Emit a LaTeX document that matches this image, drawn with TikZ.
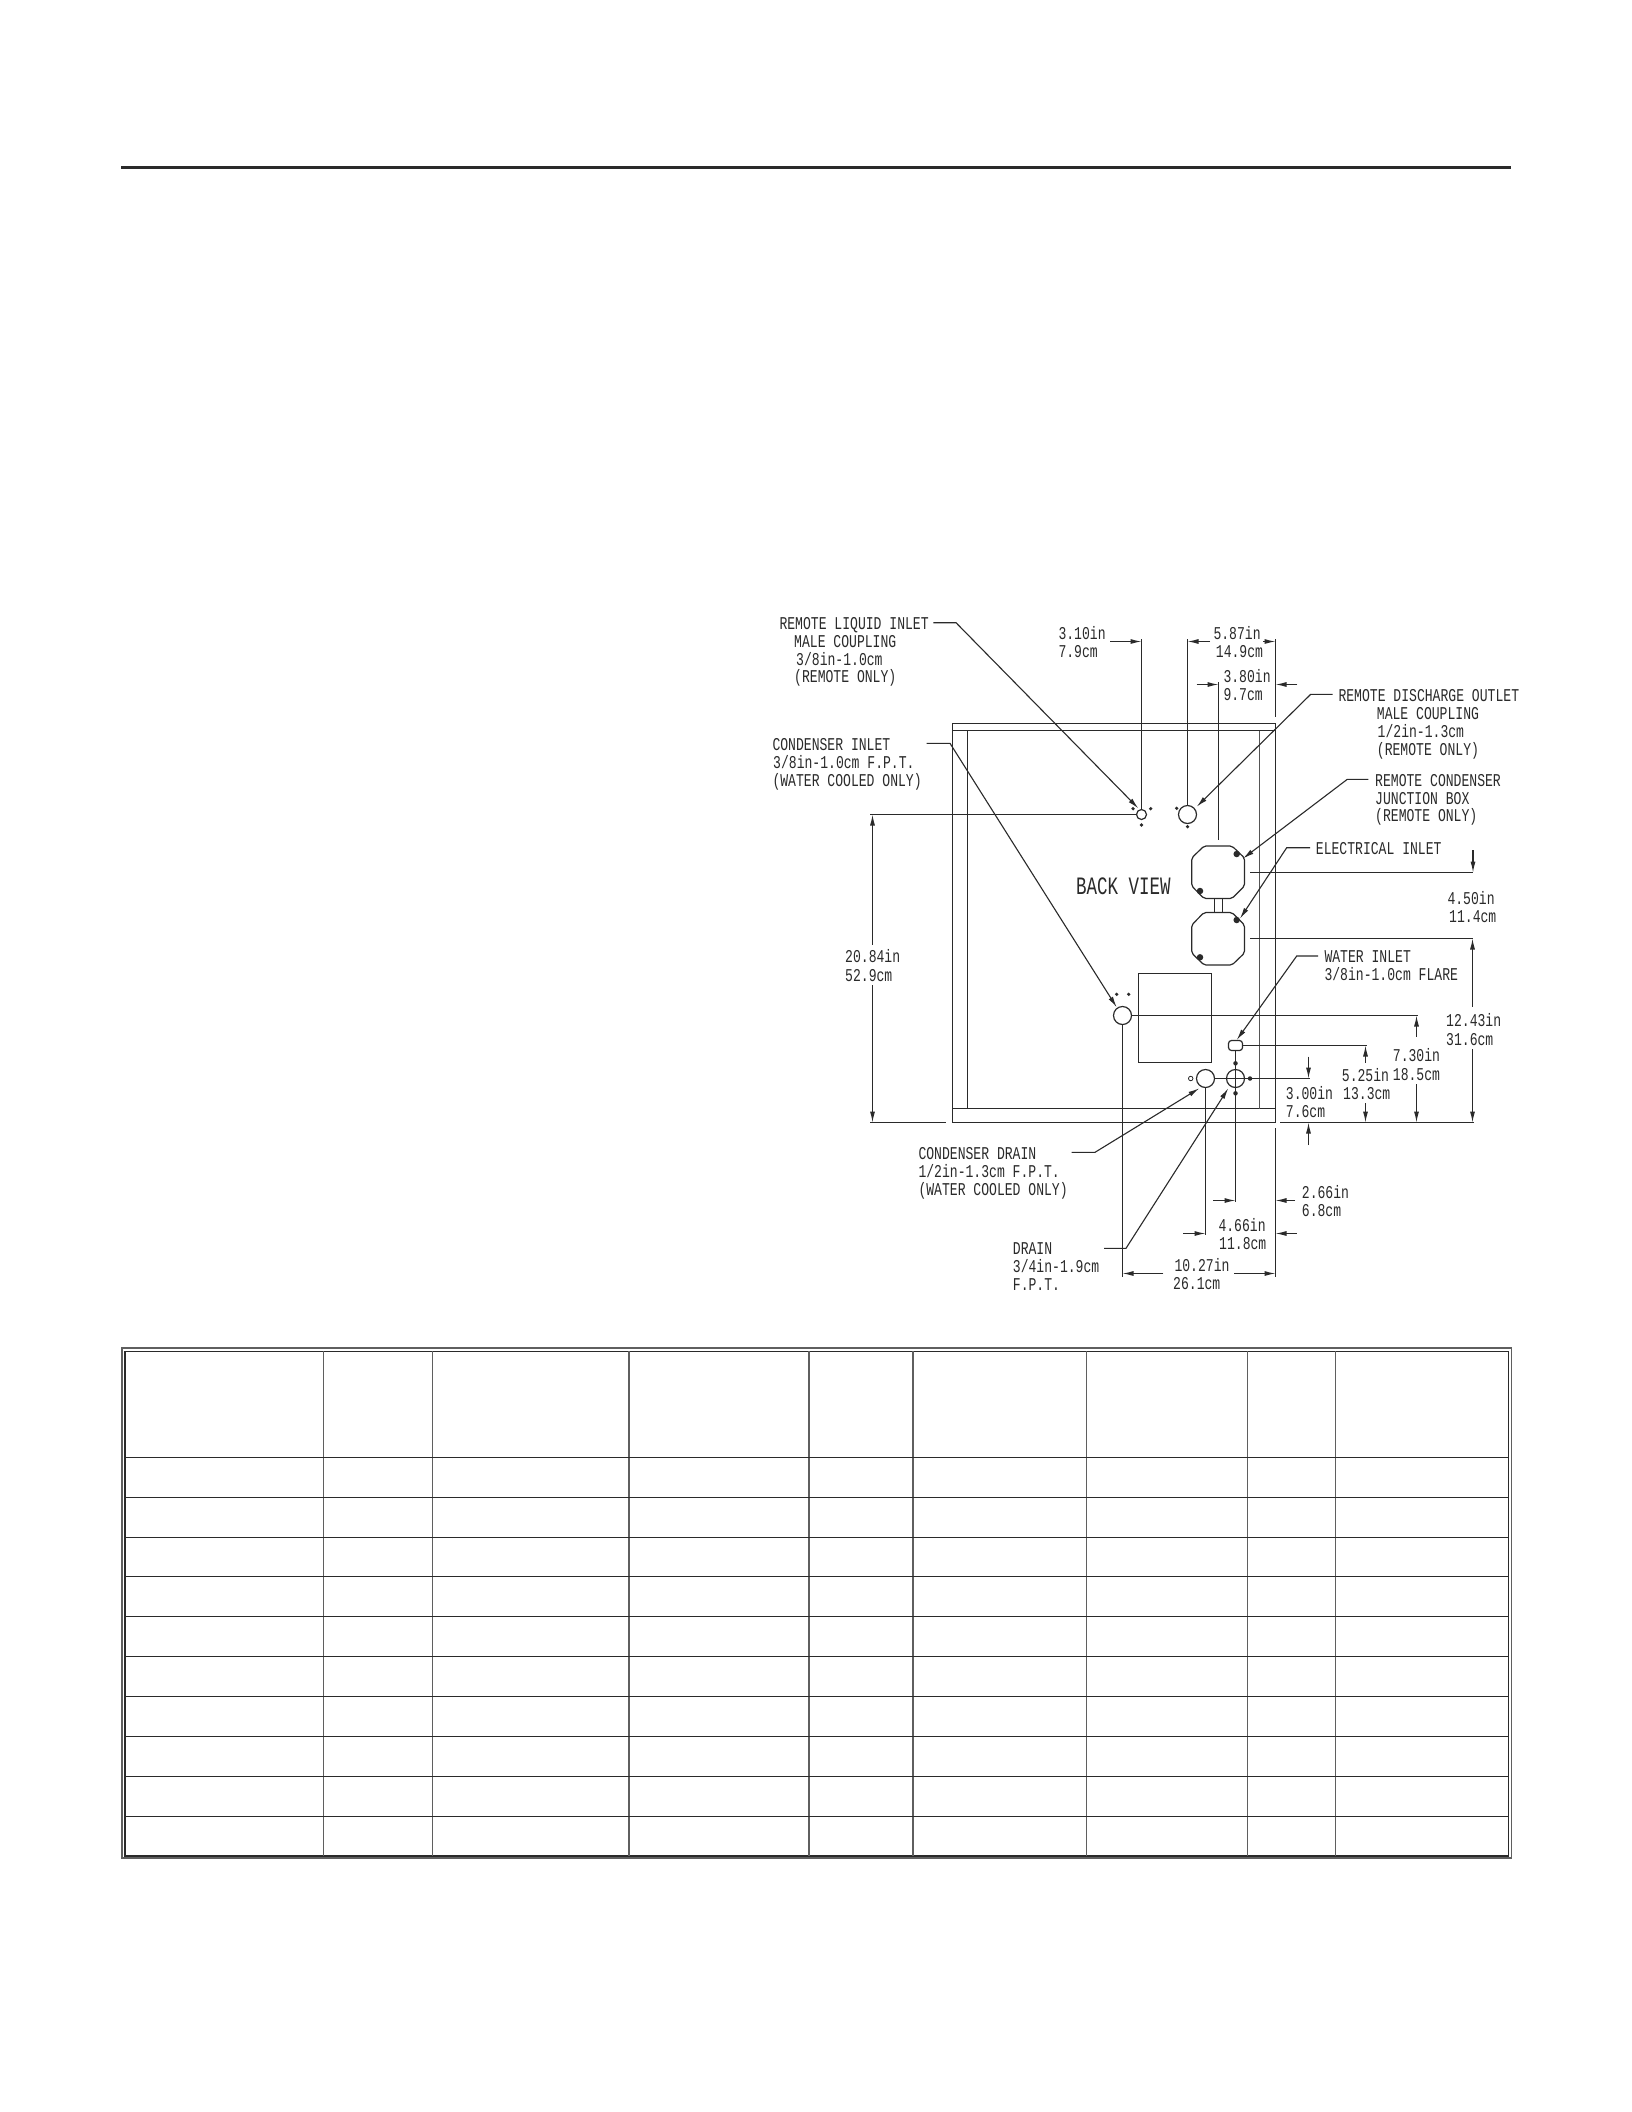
\documentclass[tikz,border=0pt]{standalone}
\usepackage{fontspec}
\setmainfont{Liberation Sans}
\newfontfamily\cadfont[FakeStretch=0.727]{Liberation Mono}
\newfontfamily\cadbig[FakeStretch=0.7]{Liberation Mono}
\usetikzlibrary{arrows.meta}
\definecolor{ink}{HTML}{2A2A2A}
\tikzset{
  x=1pt,y=-1pt,
  ln/.style={draw=ink,line width=1.2pt},
  thin ln/.style={draw=ink,line width=1pt},
  dim/.style={draw=ink,line width=1.1pt,-{Latex[length=11pt,width=5pt]}},
  dimb/.style={draw=ink,line width=1.1pt,{Latex[length=11pt,width=5pt]}-},
  lead/.style={draw=ink,line width=1.1pt,-{Latex[length=11pt,width=5pt]}},
  lab/.style={anchor=west,inner sep=0pt,text=ink,text height=12pt,text depth=0pt,font=\cadfont\fontsize{18}{20}\selectfont},
  big/.style={anchor=west,inner sep=0pt,text=ink,text height=17pt,text depth=0pt,font=\cadbig\fontsize{25}{28}\selectfont},
  port/.style={draw=ink,line width=1.2pt,circle,inner sep=0pt,fill=white},
  dot/.style={fill=ink,circle,inner sep=0pt,minimum size=6.5pt},
  sdot/.style={fill=ink,circle,inner sep=0pt,minimum size=3.6pt},
  box/.style={draw=ink,line width=1.2pt,rounded corners=2pt},
  grid/.style={draw=ink,line width=1.1pt},
  gridv/.style={draw=ink!75,line width=1.5pt}
}
\begin{document}
\begin{tikzpicture}
\useasboundingbox[fill=white] (0,0) rectangle (1632,2112);
% header rule
\coordinate (ruleL) at (121,167.7);
\coordinate (ruleR) at (1511,167.7);
\draw[draw=ink,line width=2.6pt] (ruleL) -- (ruleR);

% cabinet frame
\draw[ln] (952.5,1122.5) -- (952.5,723.5) -- (1275.5,723.5) -- (1275.5,1122.5) -- cycle;
\draw[ln] (952.5,730.5) -- (1275.5,730.5);
\draw[ln] (952.5,1108.5) -- (1275.5,1108.5);
\draw[ln] (967.5,730.5) -- (967.5,1108.5);
\draw[thin ln,draw=ink!80] (1259.5,730.5) -- (1259.5,1108.5);

% electrical boxes
\draw[box] (1204,846) -- (1232,846) -- (1244.5,858) -- (1244.5,886) -- (1232,898.5) -- (1204,898.5) -- (1191.7,886) -- (1191.7,858) -- cycle;
\draw[box] (1204,912.5) -- (1232,912.5) -- (1244.5,925) -- (1244.5,953) -- (1232,965) -- (1204,965) -- (1191.7,953) -- (1191.7,925) -- cycle;
\draw[ln] (1214.3,898.5) -- (1214.3,912.5) (1222.7,898.5) -- (1222.7,912.5);
\node[dot] (d1) at (1236.7,854) {};
\node[dot] (d2) at (1200,891) {};
\node[dot] (d3) at (1236.7,920) {};
\node[dot] (d4) at (1200,957.3) {};

% compressor box
\draw[ln] (1138.5,973.5) rectangle (1211.5,1062.5);

% dimension and extension lines
\coordinate (a1) at (1141.5,641.5);
\coordinate (a2) at (1187.5,641.5);
\draw[ln] (1141.5,639) -- (1141.5,809.5);
\draw[dim] (1110,641.5) -- (a1);
\draw[ln] (1187.5,639) -- (1187.5,805.5);
\draw[dim] (1210,641.5) -- (a2);
\draw[ln] (1275.5,639) -- (1275.5,716.7);
\draw[dim] (1263,641.5) -- (1275.5,641.5);
\draw[ln] (1218.5,682) -- (1218.5,840);
\draw[dim] (1196.7,684.5) -- (1218.5,684.5);
\draw[dim] (1297.3,684.5) -- (1275.5,684.5);

\draw[ln] (870,814.5) -- (1136.7,814.5);
\draw[dimb] (872.5,814.5) -- (872.5,945);
\draw[dim] (872.5,985) -- (872.5,1122.5);
\draw[ln] (870,1122.5) -- (945.7,1122.5);

\draw[ln] (1250,872.5) -- (1473.3,872.5);
\draw[dim] (1473,850) -- (1473,872.5);
\draw[ln] (1250,938.5) -- (1473.3,938.5);
\draw[dimb] (1472.5,938.5) -- (1472.5,1006.7);
\draw[dim] (1472.5,1049.3) -- (1472.5,1122.5);
\draw[ln] (1280,1122.5) -- (1474,1122.5);

\draw[ln] (1131.7,1015.5) -- (1418.3,1015.5);
\draw[dimb] (1416.5,1015.5) -- (1416.5,1037);
\draw[dim] (1416.5,1084) -- (1416.5,1122.5);

\draw[ln] (1242,1045.5) -- (1366.7,1045.5);
\draw[dimb] (1365.5,1045.5) -- (1365.5,1063.3);
\draw[dim] (1365.5,1103.3) -- (1365.5,1122.5);

\draw[ln] (1215,1078.5) -- (1310,1078.5);
\draw[dim] (1308.5,1056.7) -- (1308.5,1078.5);
\draw[dim] (1308.5,1145) -- (1308.5,1122.5);

\draw[ln] (1122.5,1024) -- (1122.5,1277);
\draw[ln] (1205.5,1087) -- (1205.5,1235);
\draw[ln] (1235.5,1050.7) -- (1235.5,1202);
\draw[ln] (1275.5,1128.3) -- (1275.5,1277);
\draw[dim] (1163.3,1273.5) -- (1122.5,1273.5);
\draw[dim] (1234,1273.5) -- (1275.5,1273.5);
\draw[dim] (1183.3,1233.5) -- (1205.5,1233.5);
\draw[dim] (1296.7,1233.5) -- (1275.5,1233.5);
\draw[dim] (1213.3,1200.5) -- (1235.5,1200.5);
\draw[dim] (1295,1200.5) -- (1275.5,1200.5);

% ports
\node[port,minimum size=10pt] (p1) at (1141.5,814.5) {};
\node[port,minimum size=18pt] (p2) at (1187.5,814.5) {};
\node[port,minimum size=18pt] (p3) at (1122.5,1015.5) {};
\node[port,minimum size=18pt] (p4) at (1205.5,1078.5) {};
\node[port,minimum size=18pt] (p5) at (1235.5,1078.5) {};
\draw[ln] (p5.west) -- (p5.east) (p5.north) -- (p5.south);
\draw[ln,rounded corners=3pt,fill=white] (1228.5,1040.5) rectangle (1242.5,1050.5);
\node[sdot] (s1) at (1150.7,808.7) {};
\node[sdot] (s2) at (1133,808.7) {};
\node[sdot] (s3) at (1141.5,825) {};
\node[sdot] (s4) at (1176.7,808.3) {};
\node[sdot] (s5) at (1187.5,826.7) {};
\node[sdot] (s6) at (1116.7,994.3) {};
\node[sdot] (s7) at (1128.7,994.3) {};
\node[dot,minimum size=4.5pt] (s8) at (1235.5,1063.3) {};
\node[dot,minimum size=4.5pt] (s9) at (1250,1078.5) {};
\node[dot,minimum size=4.5pt] (s10) at (1235.5,1093.3) {};
\node[draw=ink,line width=0.8pt,circle,inner sep=0pt,minimum size=4.5pt] (s11) at (1190.7,1078.5) {};

% leaders
\draw[lead] (933.3,622.7) -- (956,622.7) -- (1138.3,808.3);
\draw[lead] (1332.7,694.3) -- (1310.7,694.3) -- (1196.7,806.7);
\draw[lead] (1368.3,779.3) -- (1347.3,779.3) -- (1243,858.5);
\draw[lead] (1310,847.7) -- (1286.7,847.7) -- (1240,918.5);
\draw[lead] (926.7,743.3) -- (950,743.3) -- (1116.7,1007.3);
\draw[lead] (1318,956) -- (1296.7,956) -- (1236.7,1040);
\draw[lead] (1071.7,1152.3) -- (1095,1152.3) -- (1199.3,1088.3);
\draw[lead] (1104,1248.3) -- (1126,1248.3) -- (1228.3,1088.3);

% labels
\node[lab] (t1) at (779.3,623.3) {REMOTE LIQUID INLET};
\node[lab] (t1b) at (794,641) {MALE COUPLING};
\node[lab] (t1c) at (796,659) {3/8in-1.0cm};
\node[lab] (t1d) at (794,676) {(REMOTE ONLY)};
\node[lab] (t2) at (772.3,744) {CONDENSER INLET};
\node[lab] (t2b) at (773,762.3) {3/8in-1.0cm F.P.T.};
\node[lab] (t2c) at (772.3,780) {(WATER COOLED ONLY)};
\node[lab] (t3) at (1338.3,695.7) {REMOTE DISCHARGE OUTLET};
\node[lab] (t3b) at (1376.7,713.3) {MALE COUPLING};
\node[lab] (t3c) at (1377.5,731.3) {1/2in-1.3cm};
\node[lab] (t3d) at (1376.7,749) {(REMOTE ONLY)};
\node[lab] (t4) at (1375,780) {REMOTE CONDENSER};
\node[lab] (t4b) at (1375,798.3) {JUNCTION BOX};
\node[lab] (t4c) at (1375,815.7) {(REMOTE ONLY)};
\node[lab] (t5) at (1315.7,848.3) {ELECTRICAL INLET};
\node[lab] (t6) at (1324.3,956.7) {WATER INLET};
\node[lab] (t6b) at (1324.3,974.3) {3/8in-1.0cm FLARE};
\node[lab] (t7) at (918.3,1153.3) {CONDENSER DRAIN};
\node[lab] (t7b) at (918.3,1171.7) {1/2in-1.3cm F.P.T.};
\node[lab] (t7c) at (918.3,1189) {(WATER COOLED ONLY)};
\node[lab] (t8) at (1012.7,1248.3) {DRAIN};
\node[lab] (t8b) at (1012.7,1266.7) {3/4in-1.9cm};
\node[lab] (t8c) at (1012.7,1284.3) {F.P.T.};
\node[big] (bv) at (1076,886) {BACK VIEW};

\node[lab] (m1) at (1058.3,633.3) {3.10in};
\node[lab] (m1b) at (1058.3,651) {7.9cm};
\node[lab] (m2) at (1213.3,633) {5.87in};
\node[lab] (m2b) at (1215.7,651) {14.9cm};
\node[lab] (m3) at (1223.3,676.7) {3.80in};
\node[lab] (m3b) at (1223.3,694) {9.7cm};
\node[lab] (m4) at (845,956.7) {20.84in};
\node[lab] (m4b) at (845,975) {52.9cm};
\node[lab] (m5) at (1447.3,898.3) {4.50in};
\node[lab] (m5b) at (1449,916.7) {11.4cm};
\node[lab] (m6) at (1446,1020.7) {12.43in};
\node[lab] (m6b) at (1446,1039) {31.6cm};
\node[lab] (m7) at (1392.7,1055.7) {7.30in};
\node[lab] (m7b) at (1392.7,1074) {18.5cm};
\node[lab] (m8) at (1341.7,1075) {5.25in};
\node[lab] (m8b) at (1343,1093.3) {13.3cm};
\node[lab] (m9) at (1285.7,1093.3) {3.00in};
\node[lab] (m9b) at (1285.7,1111) {7.6cm};
\node[lab] (m10) at (1301.7,1192.7) {2.66in};
\node[lab] (m10b) at (1301.7,1210) {6.8cm};
\node[lab] (m11) at (1218.3,1225) {4.66in};
\node[lab] (m11b) at (1219,1243.3) {11.8cm};
\node[lab] (m12) at (1174.3,1265.7) {10.27in};
\node[lab] (m12b) at (1173,1283.3) {26.1cm};

% table
\draw[draw=ink!75,line width=1.8pt] (121.9,1348.2) rectangle (1511.5,1858.2);
\draw[grid,line width=1.3pt] (125,1351.3) rectangle (1508.5,1856);
\foreach \cx in {323.3,432.7,629,809,913,1086.3,1247.7,1335.7}
  \draw[gridv] (\cx,1351.3) -- (\cx,1856);
\foreach \i in {0,...,9}
  \draw[grid] (125,1457.3+39.87*\i) -- (1508.5,1457.3+39.87*\i);
\end{tikzpicture}
\end{document}
